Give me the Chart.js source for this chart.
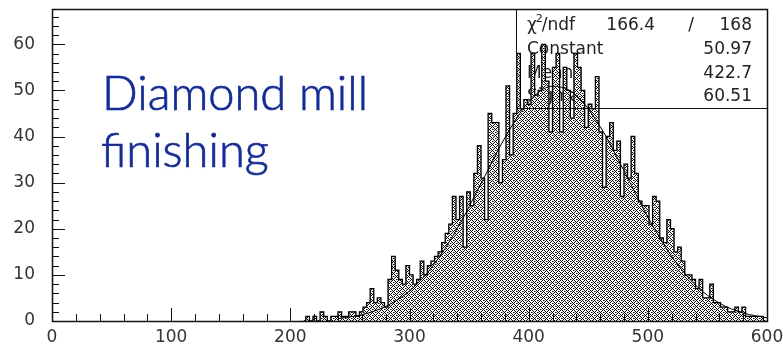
<!DOCTYPE html>
<html>
<head>
<meta charset="utf-8">
<script src="https://cdn.jsdelivr.net/npm/chart.js@4/dist/chart.umd.min.js"></script>
<style>
html,body{margin:0;padding:0;background:#fff;}
canvas{display:block;}
</style>
</head>
<body>
<canvas id="c" width="783" height="348"></canvas>
<script>
// ---- data ----
const binLowEdges = [
 210,213,216,219,222,225,228,231,234,237,
 240,243,246,249,252,255,258,261,264,267,
 270,273,276,279,282,285,288,291,294,297,
 300,303,306,309,312,315,318,321,324,327,
 330,333,336,339,342,345,348,351,354,357,
 360,363,366,369,372,375,378,381,384,387,
 390,393,396,399,402,405,408,411,414,417,
 420,423,426,429,432,435,438,441,444,447,
 450,453,456,459,462,465,468,471,474,477,
 480,483,486,489,492,495,498,501,504,507,
 510,513,516,519,522,525,528,531,534,537,
 540,543,546,549,552,555,558,561,564,567,
 570,573,576,579,582,585,588,591,594,597
];
const binWidth = 3;
const counts = [
 0,1,0,1,0,2,1,0,1,1,
 2,1,1,2,2,1,2,3,4,7,
 4,5,4,3,9,14,11,9,8,12,
 10,8,9,13,10,12,13,14,15,17,
 19,21,27,22,27,16,28,25,32,38,
 31,22,45,43,43,30,35,51,36,45,
 58,46,48,47,58,49,50,60,52,41,
 55,58,41,55,50,44,58,55,50,42,
 47,46,53,41,29,40,43,37,39,27,
 34,31,40,32,26,25,25,21,27,26,
 18,17,22,20,15,16,13,10,10,9,
 7,9,5,5,8,4,4,3,3,2,
 2,3,2,3,1,1,1,1,1,0
];
const fitX = [240,260,280,300,320,340,360,380,400,420,440,460,480,500,520,540,560,580,600];
const fitY = [0.53,1.37,3.16,6.52,12.08,20.03,29.8,39.7,47.5,50.92,48.93,42.15,32.55,22.54,13.99,7.78,3.88,1.73,0.70];
const xTickValues = [0,100,200,300,400,500,600];
const yTickValues = [0,10,20,30,40,50,60];
const statsRows = [
  ["Constant","50.97"],
  ["Mean","422.7"],
  ["Sigma","60.51"]
];
const chi2 = "166.4", ndf = "168";
const titleLines = ["Diamond mill","finishing"];

// ---- pattern ----
function makeHatch(){
  const p = document.createElement('canvas');
  const n = 6;
  p.width = n; p.height = n;
  const g = p.getContext('2d');
  g.fillStyle = '#fff'; g.fillRect(0,0,n,n);
  g.fillStyle = '#000';
  for(let yy=0; yy<n; yy++){
    for(let xx=0; xx<n; xx++){
      if((xx+yy)%n===0 || ((xx-yy)%n+n)%n===0) g.fillRect(xx,yy,1,1);
    }
  }
  g.fillRect(n/2,0,1,1);
  g.fillRect(0,n/2,1,1);
  g.fillStyle = '#777';
  g.fillRect(n/2+1,0,1,1);
  g.fillRect(1,n/2,1,1);
  return g.createPattern(p,'repeat');
}
const ctx = document.getElementById('c').getContext('2d');
const hatch = makeHatch();

const histPoints = binLowEdges.map((lo,i)=>({x: lo + binWidth/2, y: counts[i]}));
const fitPoints = fitX.map((x,i)=>({x, y: fitY[i]}));

const AXIS_FONT = '17px "DejaVu Sans", sans-serif';
const STAT_FONT = '17px "DejaVu Sans", sans-serif';

const decor = {
  id:'decor',
  beforeDatasetsDraw(chart){
    const {ctx, chartArea:a} = chart;
    ctx.save();
    ctx.fillStyle = '#222';
    ctx.font = STAT_FONT;
    ctx.textBaseline = 'alphabetic';
    const bx = a.left + 464;
    const rightX = a.right - 15;
    const rowY = [a.top+21, a.top+45, a.top+69, a.top+92];
    ctx.textAlign = 'left';
    ctx.fillText('\u03C7', bx+11, rowY[0]);
    const cw = ctx.measureText('\u03C7').width;
    ctx.font = '11px "DejaVu Sans", sans-serif';
    ctx.fillText('2', bx+11+cw-1, rowY[0]-8);
    ctx.font = STAT_FONT;
    ctx.fillText('/ndf', bx+11+cw+5, rowY[0]);
    ctx.textAlign = 'right';
    ctx.fillText(chi2, bx+139, rowY[0]);
    ctx.fillText('/', bx+178, rowY[0]);
    ctx.fillText(ndf, rightX, rowY[0]);
    statsRows.forEach((r,i)=>{
      ctx.textAlign = 'left';
      ctx.fillText(r[0], bx+11, rowY[i+1]);
      ctx.textAlign = 'right';
      ctx.fillText(r[1], rightX, rowY[i+1]);
    });
    ctx.restore();
  },
  afterDatasetsDraw(chart){
    const {ctx, chartArea:a, scales:{x,y}} = chart;
    ctx.save();
    ctx.strokeStyle = '#111';
    ctx.lineWidth = 1;
    ctx.beginPath();
    for(let v=0; v<=600; v+=20){
      const px = Math.round(x.getPixelForValue(v))+0.5;
      const len = (v%100===0)?13:7;
      ctx.moveTo(px, a.bottom); ctx.lineTo(px, a.bottom-len);
    }
    for(let v=0; v<=66; v+=2){
      const py = Math.round(y.getPixelForValue(v))+0.5;
      const len = (v%10===0)?13:7;
      ctx.moveTo(a.left, py); ctx.lineTo(a.left+len, py);
    }
    ctx.stroke();
    // stats box lines
    const bx = Math.round(a.left + 464)+0.5;
    const by = Math.round(a.top + 99)+0.5;
    ctx.beginPath();
    ctx.moveTo(bx, a.top); ctx.lineTo(bx, by); ctx.lineTo(a.right, by);
    ctx.stroke();
    // frame
    ctx.lineWidth = 1.5;
    ctx.strokeRect(Math.round(a.left)+0.5, Math.round(a.top)+0.5, Math.round(a.right-a.left), Math.round(a.bottom-a.top));
    // tick labels
    ctx.fillStyle = '#333';
    ctx.font = AXIS_FONT;
    ctx.textAlign = 'right';
    ctx.textBaseline = 'middle';
    yTickValues.forEach(v=>{
      ctx.fillText(String(v), a.left-17, y.getPixelForValue(v));
    });
    ctx.textAlign = 'center';
    ctx.textBaseline = 'top';
    xTickValues.forEach(v=>{
      ctx.fillText(String(v), x.getPixelForValue(v), a.bottom+8);
    });
    // title text
    const col = 'rgb(16,42,168)';
    ctx.fillStyle = col;
    ctx.strokeStyle = col;
    ctx.lineWidth = 0.7;
    ctx.textAlign = 'left';
    ctx.textBaseline = 'alphabetic';
    let fs = 46;
    const fam = 'px Lato, "Open Sans", sans-serif';
    ctx.font = '300 ' + fs + fam;
    const w = ctx.measureText(titleLines[0]).width;
    fs = fs*266/w;
    ctx.font = '300 ' + fs.toFixed(1) + fam;
    ctx.fillText(titleLines[0], a.left+50, a.top+101);
    ctx.strokeText(titleLines[0], a.left+50, a.top+101);
    ctx.fillText(titleLines[1], a.left+49, a.top+158);
    ctx.strokeText(titleLines[1], a.left+49, a.top+158);
    ctx.restore();
  }
};

new Chart(ctx, {
  type:'bar',
  data:{
    datasets:[
      {type:'line', label:'fit', data: fitPoints, borderColor:'#000', borderWidth:1,
       pointRadius:0, cubicInterpolationMode:'monotone', fill:false, order:0},
      {type:'line', label:'outline', data: histPoints, borderColor:'#000', borderWidth:1.3,
       pointRadius:0, stepped:'middle', fill:false, order:1},
      {type:'bar', label:'hist', data: histPoints, backgroundColor: hatch, borderWidth:0,
       barPercentage:1, categoryPercentage:1, order:2}
    ]
  },
  options:{
    responsive:false,
    animation:false,
    devicePixelRatio:1,
    layout:{padding:{left:0, top:9, right:16, bottom:0}},
    plugins:{legend:{display:false}, tooltip:{enabled:false}},
    scales:{
      x:{
        type:'linear', min:0, max:600, offset:false,
        grid:{display:false, drawTicks:false},
        border:{display:false},
        afterFit(s){ s.height = 27; },
        ticks:{display:false}
      },
      y:{
        min:0, max:67.65,
        grid:{display:false, drawTicks:false},
        border:{display:false},
        afterFit(s){ s.width = 52; },
        ticks:{display:false}
      }
    }
  },
  plugins:[decor]
});
</script>
</body>
</html>
